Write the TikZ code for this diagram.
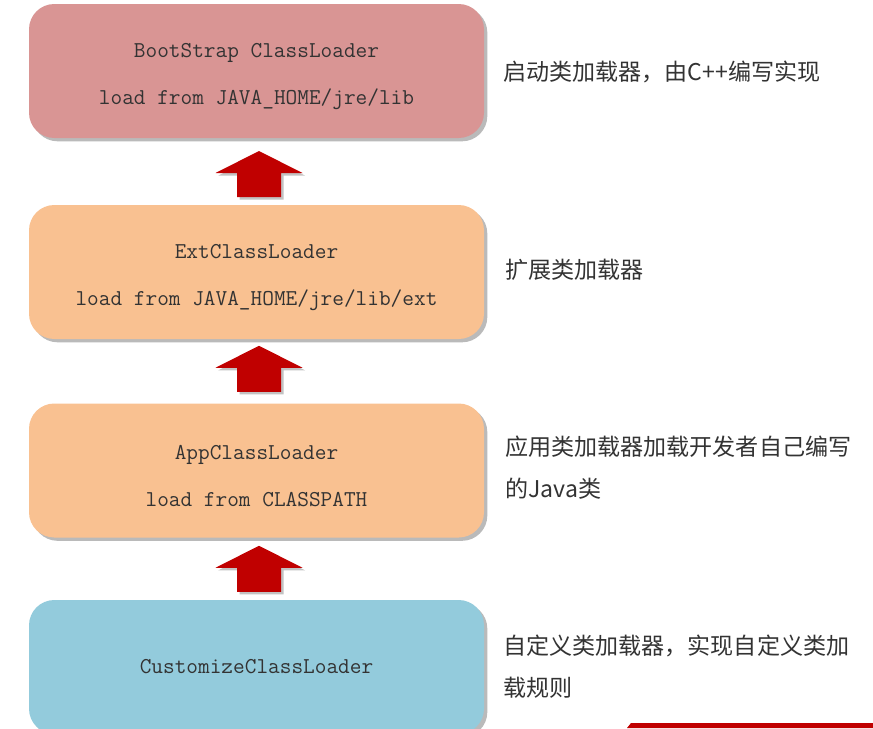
\documentclass[tikz,border=0pt]{standalone}
\usepackage{fontspec}
\newfontfamily\cjk{Noto Sans CJK SC}
\usetikzlibrary{shadows,calc}
\definecolor{bootred}{HTML}{D99594}
\definecolor{extorange}{HTML}{F9C191}
\definecolor{custblue}{HTML}{93CBDC}
\definecolor{arrowred}{HTML}{C00000}
\definecolor{txtgray}{HTML}{333333}
\newcommand{\firststrut}{\rule{0pt}{19pt}}

\begin{document}
\begin{tikzpicture}[x=0.75pt, y=-0.75pt,
    loader/.style={rectangle, rounded corners=19pt, minimum width=341.25pt, minimum height=100.5pt,
        align=center, text=txtgray, font=\ttfamily\fontsize{17}{35.25}\selectfont,
        drop shadow={shadow xshift=2.5pt, shadow yshift=-2.5pt, opacity=0.45, fill=black!60}},
    note/.style={anchor=west, align=left, inner sep=0pt, text=txtgray, font=\cjk\fontsize{17.3}{31.5}\selectfont},
    uparrow/.pic={
        \fill[arrowred, drop shadow={shadow xshift=2pt, shadow yshift=-2pt, opacity=0.4, fill=black!60}]
            (0,-23) -- (43.5,-1) -- (22,-1) -- (22,23) -- (-22,23) -- (-22,-1) -- (-43.5,-1) -- cycle;
    }]
    \useasboundingbox (0,0) rectangle (873,728);

    % Loaders
    \node[loader, fill=bootred] (boot) at (256.5,71) {\firststrut BootStrap ClassLoader\\load from JAVA\_HOME/jre/lib};
    \node[loader, fill=extorange] (ext) at (256.5,272) {\firststrut ExtClassLoader\\load from JAVA\_HOME/jre/lib/ext};
    \node[loader, fill=extorange] (app) at (256.5,470.5) {\firststrut AppClassLoader\\load from CLASSPATH};
    \node[loader, fill=custblue] (cust) at (256.5,667) {CustomizeClassLoader};

    % Delegation arrows
    \pic (up1) at ($(boot.south)!0.5!(ext.north) + (2.5,2.5)$) {uparrow};
    \pic (up2) at ($(ext.south)!0.5!(app.north) + (2.5,-2.5)$) {uparrow};
    \pic (up3) at ($(app.south)!0.5!(cust.north) + (2.5,0)$) {uparrow};

    % Notes
    \node[note] (bootnote) at (503,72) {启动类加载器，由C++编写实现};
    \node[note] (extnote) at (505,270) {扩展类加载器};
    \node[note] (appnote) at (505,468) {应用类加载器加载开发者自己编写\\的Java类};
    \node[note] (custnote) at (503,666.5) {自定义类加载器，实现自定义类加\\载规则};

    % Bottom bar
    \fill[arrowred] (627,728) -- (631,723) -- (873,723) -- (873,728) -- cycle;
\end{tikzpicture}
\end{document}
